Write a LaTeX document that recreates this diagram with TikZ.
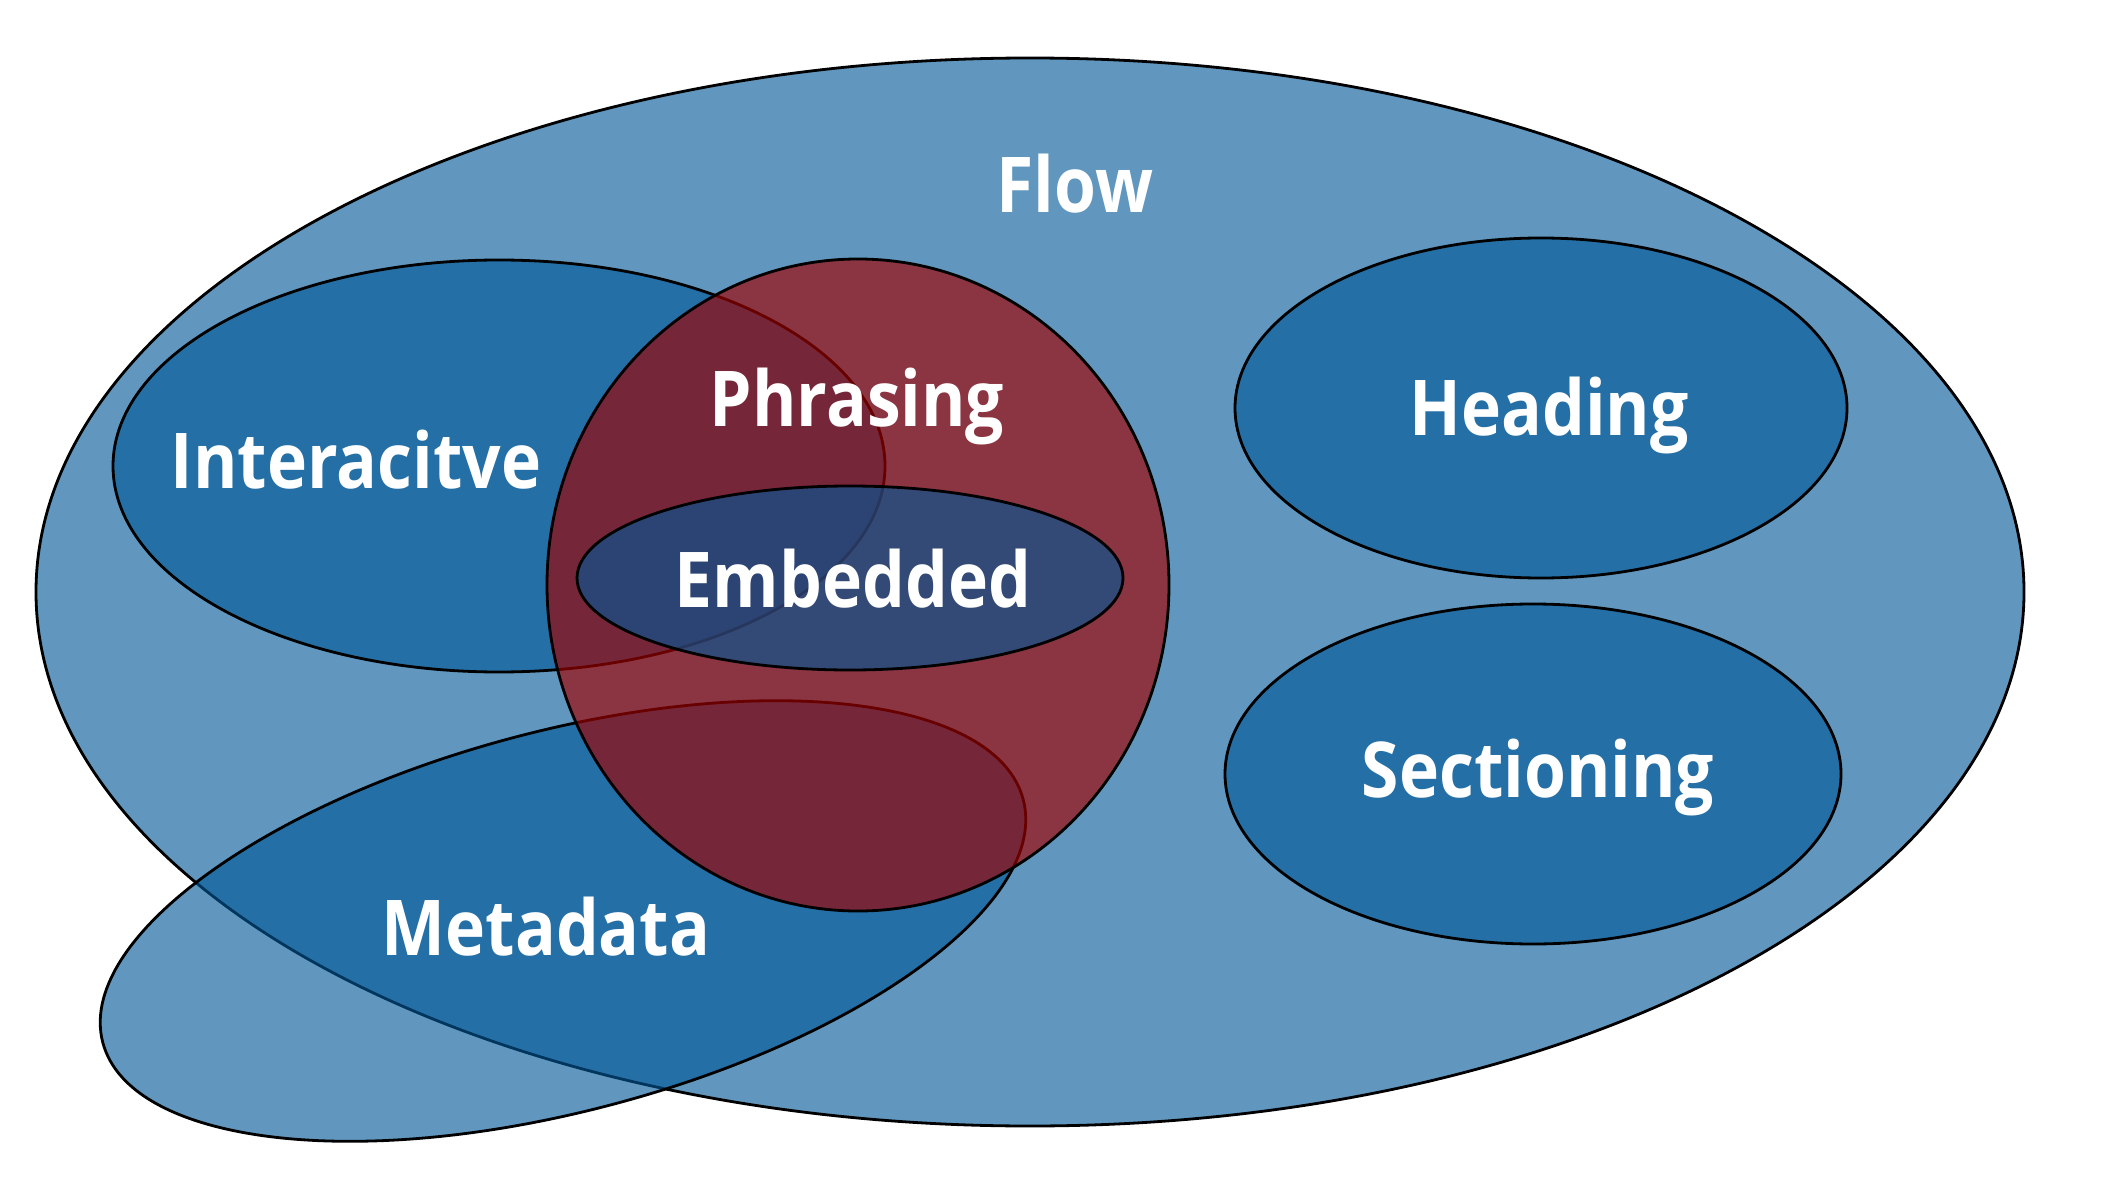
\documentclass[tikz,border=0pt]{standalone}
\usepackage{fontspec}
\setmainfont{Open Sans}[FakeStretch=0.88]

\definecolor{setblue}{RGB}{0,88,151}
\definecolor{setred}{RGB}{162,0,0}

\begin{document}
\begin{tikzpicture}[
    x=0.5pt, y=-0.5pt,
    blueset/.style={draw=black, line width=1.4pt, fill=setblue, fill opacity=0.62},
    redset/.style={draw=black, line width=1.4pt, fill=setred, fill opacity=0.65},
    lbl/.style={text=white, anchor=base, inner sep=0pt,
                font=\bfseries\fontsize{38.5}{40}\selectfont}
]
\useasboundingbox[fill=white] (0,0) rectangle (2108,1192);

% sets, back to front
\draw[blueset] (1030,592) ellipse [x radius=497pt, y radius=267pt];   % flow
\draw[blueset] (499,466) ellipse [x radius=193pt, y radius=103pt];    % interactive
\draw[blueset] (1541,408) ellipse [x radius=153pt, y radius=85pt];    % heading
\draw[blueset] (1533,774) ellipse [x radius=154pt, y radius=85pt];    % sectioning
\draw[blueset, rotate around={14.8:(563,921)}]
    (563,921) ellipse [x radius=238pt, y radius=95pt];                % metadata
\draw[redset] (858,585) ellipse [x radius=155.5pt, y radius=163pt];   % phrasing
\draw[blueset] (850,578) ellipse [x radius=136.5pt, y radius=46pt];   % embedded

% labels
\node[lbl] (flow)        at (1075,213) {Flow};
\node[lbl] (interactive) at (356,488)  {Interacitve};
\node[lbl] (phrasing)    at (857,426)  {Phrasing};
\node[lbl] (embedded)    at (853,607)  {Embedded};
\node[lbl] (heading)     at (1549,435) {Heading};
\node[lbl] (sectioning)  at (1538,797) {Sectioning};
\node[lbl] (metadata)    at (546,955)  {Metadata};
\end{tikzpicture}
\end{document}
